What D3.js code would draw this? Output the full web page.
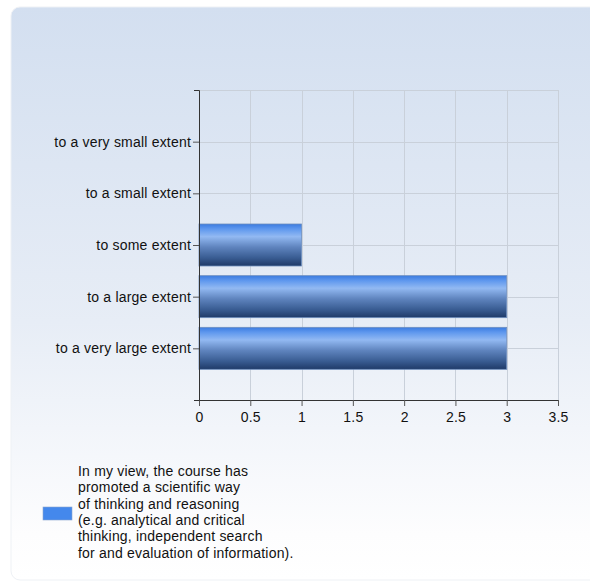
<!DOCTYPE html>
<html>
<head>
<meta charset="utf-8">
<script src="https://cdn.jsdelivr.net/npm/d3@7"></script>
<style>
  body { margin: 0; background: #fff; }
  svg { display: block; font-family: Arial, "Liberation Sans", sans-serif; }
</style>
</head>
<body>
<div id="chart"></div>
<script>
// Data
const categories = [
  "to a very small extent",
  "to a small extent",
  "to some extent",
  "to a large extent",
  "to a very large extent"
];
const counts = [0, 0, 1, 3, 3];
const xTicks = [0, 0.5, 1, 1.5, 2, 2.5, 3, 3.5];
const legendLines = [
  "In my view, the course has",
  "promoted a scientific way",
  "of thinking and reasoning",
  "(e.g. analytical and critical",
  "thinking, independent search",
  "for and evaluation of information)."
];

const width = 590;
const height = 584;
const plot = { left: 199, right: 558, top: 90, bottom: 400 };
const fontSize = 14;
const letterSpacing = 0.2;

const svg = d3
  .select("#chart")
  .append("svg")
  .attr("width", width)
  .attr("height", height);

const defs = svg.append("defs");

const bg = defs.append("linearGradient")
  .attr("id", "bg")
  .attr("x1", 0).attr("y1", 0).attr("x2", 0).attr("y2", 1);
bg.append("stop").attr("offset", "0%").attr("stop-color", "#d3dff0");
bg.append("stop").attr("offset", "55%").attr("stop-color", "#e7edf6");
bg.append("stop").attr("offset", "92%").attr("stop-color", "#fdfdfe");
bg.append("stop").attr("offset", "100%").attr("stop-color", "#ffffff");

const barGrad = defs.append("linearGradient")
  .attr("id", "bar")
  .attr("x1", 0).attr("y1", 0).attr("x2", 0).attr("y2", 1);
[
  ["0%", "#3b7be0"],
  ["12%", "#5f98ee"],
  ["30%", "#92b9f2"],
  ["55%", "#5f84be"],
  ["80%", "#3a5d93"],
  ["100%", "#1f3a68"]
].forEach(([o, c]) => barGrad.append("stop").attr("offset", o).attr("stop-color", c));

// Panel
svg.append("rect")
  .attr("x", 11)
  .attr("y", 7)
  .attr("width", 590)
  .attr("height", 573)
  .attr("rx", 9)
  .attr("fill", "url(#bg)")
  .attr("stroke", "#eef1f5")
  .attr("stroke-width", 1);

// Scales
const x = d3.scaleLinear().domain([0, 3.5]).range([plot.left, plot.right]);
const y = d3.scalePoint().domain(categories).range([plot.top, plot.bottom]).padding(1);
const barH = 42;

// Grid
const grid = svg.append("g").attr("stroke", "#c9d0da").attr("stroke-width", 1);
grid.selectAll("line.v")
  .data(xTicks.slice(1))
  .join("line")
  .attr("x1", d => Math.round(x(d)) + 0.5)
  .attr("x2", d => Math.round(x(d)) + 0.5)
  .attr("y1", plot.top)
  .attr("y2", plot.bottom);
grid.selectAll("line.h")
  .data(categories)
  .join("line")
  .attr("x1", plot.left)
  .attr("x2", plot.right)
  .attr("y1", d => Math.round(y(d)) + 0.5)
  .attr("y2", d => Math.round(y(d)) + 0.5);
grid.append("line")
  .attr("x1", plot.left).attr("x2", plot.right)
  .attr("y1", plot.top + 0.5).attr("y2", plot.top + 0.5);

// Bars
svg.append("g")
  .selectAll("rect")
  .data(categories.map((c, i) => ({ c, v: counts[i] })).filter(d => d.v > 0))
  .join("rect")
  .attr("x", x(0))
  .attr("y", d => y(d.c) - barH / 2)
  .attr("width", d => x(d.v) - x(0))
  .attr("height", barH)
  .attr("fill", "url(#bar)")
  .attr("stroke", "#6f8fbf")
  .attr("stroke-width", 0.8);

// Axes
const xAxis = svg.append("g")
  .attr("transform", `translate(0,${plot.bottom})`)
  .call(d3.axisBottom(x).tickValues(xTicks).tickSize(6).tickSizeOuter(0).tickFormat(d3.format("")));

const yAxis = svg.append("g")
  .attr("transform", `translate(${plot.left},0)`)
  .call(d3.axisLeft(y).tickSize(6).tickSizeOuter(5).tickPadding(2));

[xAxis, yAxis].forEach(g => {
  g.attr("font-size", fontSize).attr("font-family", "Arial, 'Liberation Sans', sans-serif");
  g.select(".domain").attr("stroke", "#333");
  g.selectAll(".tick line").attr("stroke", "#555");
  g.selectAll(".tick text")
    .attr("fill", "#111")
    .attr("letter-spacing", letterSpacing);
});
xAxis.selectAll(".tick text").attr("dy", "0.9em");

// Legend
svg.append("rect")
  .attr("x", 43)
  .attr("y", 507)
  .attr("width", 29)
  .attr("height", 13)
  .attr("fill", "#4488ec")
  .attr("stroke", "#8aa6cf")
  .attr("stroke-width", 0.6);

svg.append("text")
  .attr("x", 78)
  .attr("y", 476)
  .attr("font-size", fontSize)
  .attr("letter-spacing", letterSpacing)
  .attr("fill", "#111")
  .selectAll("tspan")
  .data(legendLines)
  .join("tspan")
  .attr("x", 78)
  .attr("dy", (d, i) => (i === 0 ? 0 : 16.3))
  .text(d => d);
</script>
</body>
</html>
